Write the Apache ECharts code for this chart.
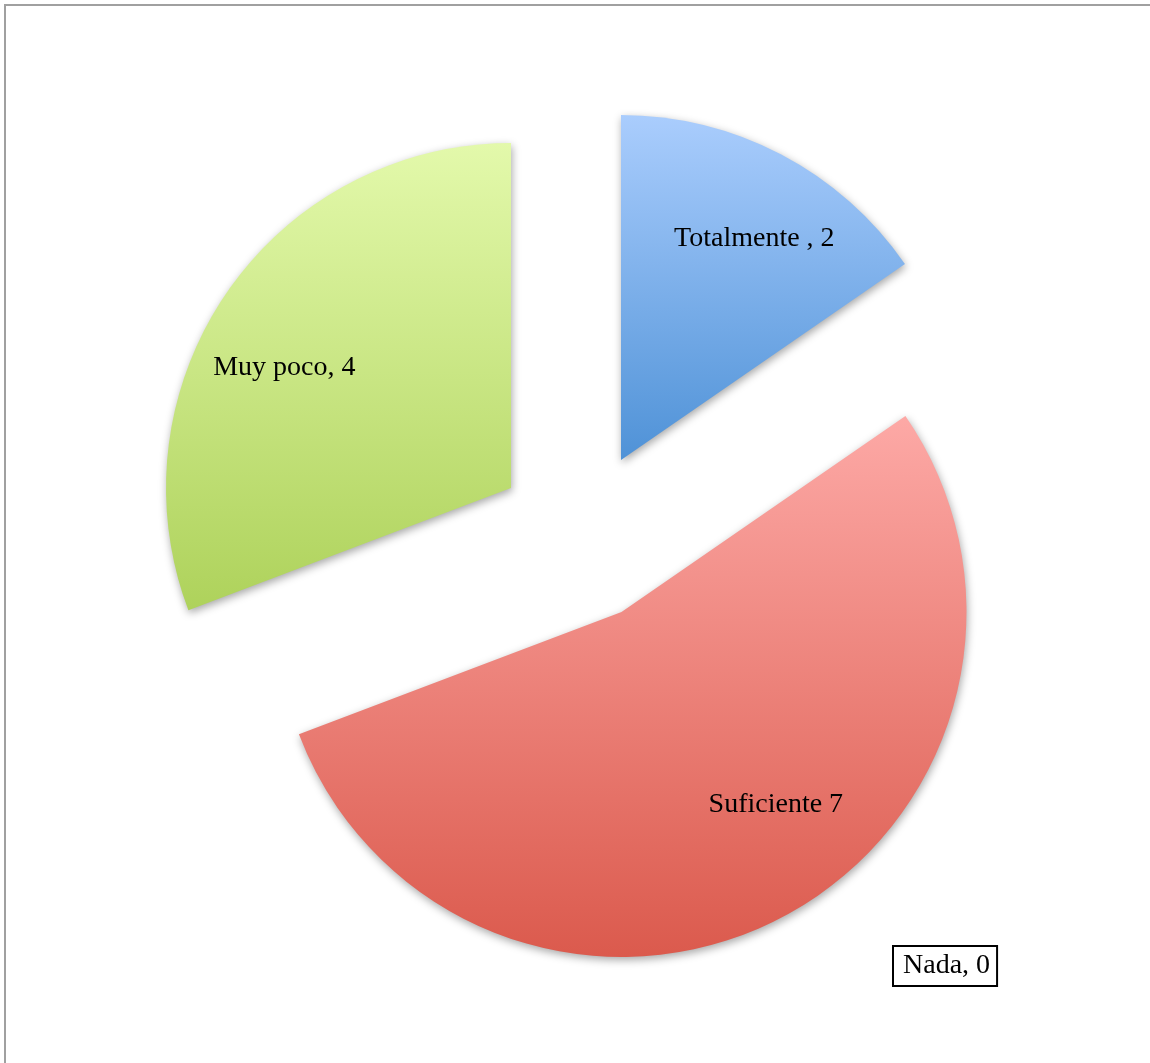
<!DOCTYPE html>
<html>
<head>
<meta charset="utf-8">
<title>Pie</title>
<script src="https://cdn.jsdelivr.net/npm/echarts@6/dist/echarts.min.js"></script>
<style>
  html, body { margin: 0; padding: 0; background: #ffffff; }
  #chart { width: 1150px; height: 1063px; }
</style>
</head>
<body>
<div id="chart"></div>
<script>
// Answers and counts, clockwise from twelve o'clock
const categories = ['Totalmente ', 'Suficiente', 'Nada', 'Muy poco'];
const values = [2, 7, 0, 4];
const separators = [', ', ' ', ', ', ', '];

// Gradient stops (top, bottom) per answer
const gradients = [
  ['#aacdfd', '#4f92d7'],
  ['#fda9a6', '#db5a4d'],
  ['#eeeeee', '#cccccc'],
  ['#e3f9ab', '#aed25b']
];

// Each exploded slice sits on its own centre
const RADIUS = 345;
const slices = [
  { index: 0, center: [621, 460], nudge: [11, 12] },
  { index: 1, center: [621.5, 612], nudge: [32, -40] },
  { index: 3, center: [511, 488], nudge: [-10, 29] }
];
const LABEL_FONT = '"Liberation Serif", "DejaVu Serif", serif';

function labelText(i) {
  return categories[i] + separators[i] + values[i];
}

const series = slices.map(function (s) {
  return {
    type: 'pie',
    center: s.center,
    radius: [0, RADIUS],
    startAngle: 90,
    clockwise: true,
    avoidLabelOverlap: false,
    animation: false,
    silent: true,
    labelLine: { show: false },
    label: { show: false },
    labelLayout: function (p) {
      const r = p.labelRect;
      const lx = r.x + r.width / 2;
      const ly = r.y + r.height / 2;
      return {
        x: s.center[0] + (lx - s.center[0]) * 1.5 + s.nudge[0],
        y: s.center[1] + (ly - s.center[1]) * 1.5 + s.nudge[1]
      };
    },
    data: categories.map(function (name, i) {
      const visible = i === s.index;
      return {
        name: name,
        value: values[i],
        itemStyle: visible ? {
          color: new echarts.graphic.LinearGradient(0, 0, 0, 1, [
            { offset: 0, color: gradients[i][0] },
            { offset: 1, color: gradients[i][1] }
          ]),
          shadowBlur: 8,
          shadowOffsetX: 1,
          shadowOffsetY: 3,
          shadowColor: 'rgba(0,0,0,0.35)'
        } : { color: 'rgba(0,0,0,0)' },
        label: visible ? {
          show: true,
          position: 'inside',
          formatter: labelText(i),
          color: '#000000',
          fontFamily: LABEL_FONT,
          fontSize: 28
        } : { show: false }
      };
    })
  };
});

const chart = echarts.init(document.getElementById('chart'), null, { renderer: 'canvas' });
chart.setOption({
  backgroundColor: '#ffffff',
  animation: false,
  series: series,
  graphic: [
    {
      type: 'rect',
      shape: { x: 5, y: 5, width: 1300, height: 1300 },
      style: { fill: 'none', stroke: '#a0a0a0', lineWidth: 2 },
      silent: true
    },
    {
      // zero-sized answer gets a boxed label of its own
      type: 'text',
      left: 892,
      top: 945,
      silent: true,
      style: {
        text: labelText(2),
        font: '28px ' + LABEL_FONT,
        fill: '#000000',
        padding: [5, 6, 5, 9],
        borderColor: '#000000',
        borderWidth: 2,
        backgroundColor: '#ffffff'
      }
    }
  ]
});
</script>
</body>
</html>
